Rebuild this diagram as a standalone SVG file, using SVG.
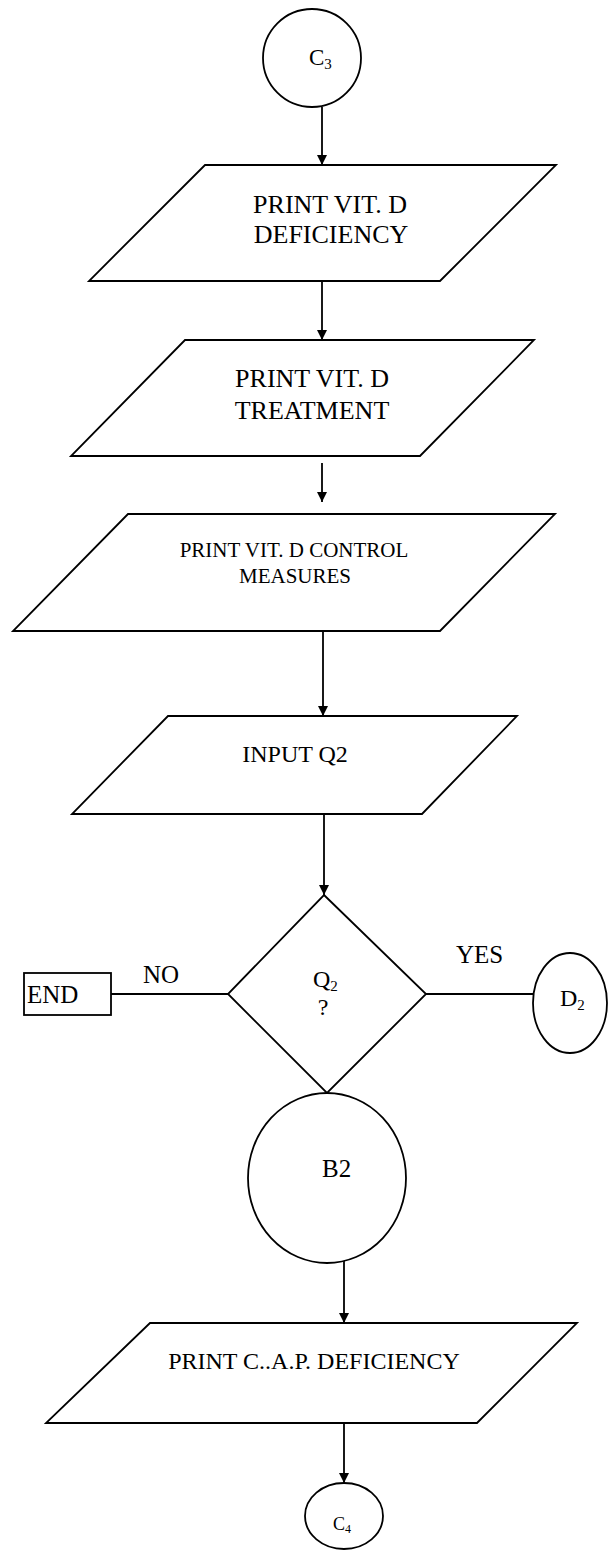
<svg xmlns="http://www.w3.org/2000/svg" width="609" height="1561" viewBox="0 0 609 1561">
<defs>
<marker id="ah" markerUnits="userSpaceOnUse" markerWidth="10" markerHeight="10" refX="10" refY="5" orient="auto">
<path d="M0,0 L10,5 L0,10 z" fill="#000"/>
</marker>
<style>
.s{fill:#fff;stroke:#000;stroke-width:1.8;stroke-linejoin:miter}
.c{fill:none;stroke:#000;stroke-width:1.8}
.t{font-family:"Liberation Serif","Times New Roman",serif;fill:#000}
</style>
</defs>
<rect width="609" height="1561" fill="#fff"/>
<g id="connectors">
<line class="c" x1="322" y1="107" x2="322" y2="165" marker-end="url(#ah)"/>
<line class="c" x1="322" y1="281" x2="322" y2="340" marker-end="url(#ah)"/>
<line class="c" x1="322" y1="463" x2="322" y2="502" marker-end="url(#ah)"/>
<line class="c" x1="323" y1="631" x2="323" y2="716" marker-end="url(#ah)"/>
<line class="c" x1="324" y1="814" x2="324" y2="895" marker-end="url(#ah)"/>
<line class="c" x1="111" y1="994" x2="228" y2="994"/>
<line class="c" x1="426" y1="994" x2="533" y2="994"/>
<line class="c" x1="344" y1="1261" x2="344" y2="1323" marker-end="url(#ah)"/>
<line class="c" x1="344" y1="1423" x2="344" y2="1483" marker-end="url(#ah)"/>
<text class="t" x="143" y="983" font-size="25">NO</text>
<text class="t" x="456" y="963" font-size="25">YES</text>
</g>
<g id="c3">
<ellipse class="s" cx="312" cy="58" rx="49" ry="49"/>
<text class="t" x="309" y="65" font-size="23">C<tspan font-size="15" dy="4">3</tspan></text>
</g>
<g id="print-deficiency">
<polygon class="s" points="205,165 556,165 440,281 89,281"/>
<text class="t" x="330" y="213" font-size="26" text-anchor="middle">PRINT VIT. D</text>
<text class="t" x="331" y="243" font-size="26" text-anchor="middle">DEFICIENCY</text>
</g>
<g id="print-treatment">
<polygon class="s" points="185,340 534,340 420,456 71,456"/>
<text class="t" x="312" y="387" font-size="26" text-anchor="middle">PRINT VIT. D</text>
<text class="t" x="312" y="419" font-size="26" text-anchor="middle">TREATMENT</text>
</g>
<g id="print-control">
<polygon class="s" points="128,514 555,514 440,631 13,631"/>
<text class="t" x="294" y="557" font-size="21" text-anchor="middle">PRINT VIT. D CONTROL</text>
<text class="t" x="295" y="583" font-size="21" text-anchor="middle">MEASURES</text>
</g>
<g id="input-q2">
<polygon class="s" points="168,716 517,716 422,814 72,814"/>
<text class="t" x="295" y="762" font-size="24" text-anchor="middle">INPUT Q2</text>
</g>
<g id="decision-q2">
<polygon class="s" points="324,895 426,994 327,1093 228,994"/>
<text class="t" x="313" y="987" font-size="24">Q<tspan font-size="15" dy="4">2</tspan></text>
<text class="t" x="323" y="1015" font-size="24" text-anchor="middle">?</text>
</g>
<g id="end">
<rect class="s" x="24" y="973" width="87" height="42"/>
<text class="t" x="27" y="1003" font-size="25">END</text>
</g>
<g id="d2">
<ellipse class="s" cx="570" cy="1003" rx="37" ry="50"/>
<text class="t" x="560" y="1006" font-size="24">D<tspan font-size="15" dy="4">2</tspan></text>
</g>
<g id="b2">
<ellipse class="s" cx="327" cy="1178" rx="79" ry="85"/>
<text class="t" x="322" y="1177" font-size="25">B2</text>
</g>
<g id="print-cap">
<polygon class="s" points="150,1323 577,1323 477,1423 46,1423"/>
<text class="t" x="314" y="1369" font-size="24" text-anchor="middle">PRINT C..A.P. DEFICIENCY</text>
</g>
<g id="c4">
<ellipse class="s" cx="344" cy="1516" rx="39" ry="33"/>
<text class="t" x="333" y="1530" font-size="18">C<tspan font-size="12" dy="3">4</tspan></text>
</g>
</svg>
